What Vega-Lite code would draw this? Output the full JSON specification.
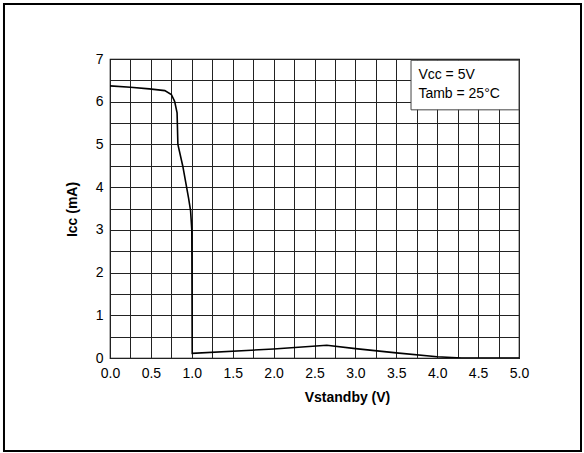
{
  "$schema": "https://vega.github.io/schema/vega-lite/v6.json",
  "width": 409,
  "height": 299,
  "autosize": {"type": "none"},
  "padding": {"left": 110, "top": 59, "right": 65, "bottom": 95},
  "background": "white",
  "config": {
    "font": "Liberation Sans",
    "view": {"stroke": "black", "strokeWidth": 1.2},
    "axis": {
      "labelFont": "Liberation Sans",
      "labelFontSize": 14,
      "labelColor": "black",
      "titleFont": "Liberation Sans",
      "titleFontSize": 14,
      "titleFontWeight": "bold",
      "titleColor": "black",
      "ticks": false,
      "domain": false,
      "grid": true,
      "gridColor": "#222",
      "gridOpacity": 1,
      "gridWidth": 1
    }
  },
  "layer": [
    {
      "data": {
        "values": [
          {"v": 0.0, "i": 6.37},
          {"v": 0.25, "i": 6.34},
          {"v": 0.48, "i": 6.3},
          {"v": 0.67, "i": 6.26},
          {"v": 0.75, "i": 6.17},
          {"v": 0.79, "i": 6.01},
          {"v": 0.82, "i": 5.74},
          {"v": 0.83, "i": 5.0},
          {"v": 0.89, "i": 4.49},
          {"v": 0.96, "i": 3.75},
          {"v": 0.985, "i": 3.45},
          {"v": 1.0, "i": 3.0},
          {"v": 1.005, "i": 0.11},
          {"v": 2.0, "i": 0.21},
          {"v": 2.65, "i": 0.3},
          {"v": 3.0, "i": 0.22},
          {"v": 3.5, "i": 0.12},
          {"v": 4.0, "i": 0.03},
          {"v": 4.3, "i": 0.0},
          {"v": 5.0, "i": 0.0}
        ]
      },
      "mark": {"type": "line", "color": "black", "strokeWidth": 1.6, "clip": true},
      "encoding": {
        "x": {
          "field": "v",
          "type": "quantitative",
          "scale": {"domain": [0, 5], "nice": false, "zero": false},
          "axis": {
            "title": "Vstandby (V)",
            "values": [0, 0.25, 0.5, 0.75, 1, 1.25, 1.5, 1.75, 2, 2.25, 2.5, 2.75, 3, 3.25, 3.5, 3.75, 4, 4.25, 4.5, 4.75, 5],
            "labelExpr": "datum.value % 0.5 == 0 ? format(datum.value, '.1f') : ''",
            "labelPadding": 8,
            "labelFlush": false,
            "titleX": 237,
            "titleY": 39,
            "titleBaseline": "middle",
            "titleAlign": "center"
          }
        },
        "y": {
          "field": "i",
          "type": "quantitative",
          "scale": {"domain": [0, 7], "nice": false, "zero": false},
          "axis": {
            "title": "Icc (mA)",
            "values": [0, 0.5, 1, 1.5, 2, 2.5, 3, 3.5, 4, 4.5, 5, 5.5, 6, 6.5, 7],
            "labelExpr": "datum.value % 1 == 0 ? format(datum.value, 'd') : ''",
            "labelPadding": 7,
            "labelFlush": false,
            "titleX": -38,
            "titleY": 150,
            "titleAngle": 270,
            "titleAlign": "center",
            "titleBaseline": "middle"
          }
        }
      }
    },
    {
      "data": {"values": [{"part": "frame"}]},
      "mark": {"type": "rect", "fill": null, "stroke": "black", "strokeWidth": 2},
      "encoding": {
        "x": {"datum": -1.296, "type": "quantitative", "axis": {"title": "Vstandby (V)", "values": [0, 0.25, 0.5, 0.75, 1, 1.25, 1.5, 1.75, 2, 2.25, 2.5, 2.75, 3, 3.25, 3.5, 3.75, 4, 4.25, 4.5, 4.75, 5], "labelExpr": "datum.value % 0.5 == 0 ? format(datum.value, '.1f') : ''", "labelPadding": 8, "labelFlush": false, "titleX": 237, "titleY": 39, "titleBaseline": "middle", "titleAlign": "center"}},
        "x2": {"datum": 5.758},
        "y": {"datum": 8.288, "type": "quantitative", "axis": {"title": "Icc (mA)", "values": [0, 0.5, 1, 1.5, 2, 2.5, 3, 3.5, 4, 4.5, 5, 5.5, 6, 6.5, 7], "labelExpr": "datum.value % 1 == 0 ? format(datum.value, 'd') : ''", "labelPadding": 7, "labelFlush": false, "titleX": -38, "titleY": 150, "titleAngle": 270, "titleAlign": "center", "titleBaseline": "middle"}},
        "y2": {"datum": -2.177}
      }
    },
    {
      "data": {"values": [{"part": "legend"}]},
      "mark": {"type": "rect", "fill": "white", "stroke": "#444", "strokeWidth": 1},
      "encoding": {
        "x": {"datum": 3.68, "type": "quantitative", "axis": {"title": "Vstandby (V)", "values": [0, 0.25, 0.5, 0.75, 1, 1.25, 1.5, 1.75, 2, 2.25, 2.5, 2.75, 3, 3.25, 3.5, 3.75, 4, 4.25, 4.5, 4.75, 5], "labelExpr": "datum.value % 0.5 == 0 ? format(datum.value, '.1f') : ''", "labelPadding": 8, "labelFlush": false, "titleX": 237, "titleY": 39, "titleBaseline": "middle", "titleAlign": "center"}},
        "x2": {"datum": 5.0},
        "y": {"datum": 6.97, "type": "quantitative", "axis": {"title": "Icc (mA)", "values": [0, 0.5, 1, 1.5, 2, 2.5, 3, 3.5, 4, 4.5, 5, 5.5, 6, 6.5, 7], "labelExpr": "datum.value % 1 == 0 ? format(datum.value, 'd') : ''", "labelPadding": 7, "labelFlush": false, "titleX": -38, "titleY": 150, "titleAngle": 270, "titleAlign": "center", "titleBaseline": "middle"}},
        "y2": {"datum": 5.81}
      }
    },
    {
      "data": {"values": [{"label": "Vcc = 5V"}]},
      "mark": {"type": "text", "align": "left", "baseline": "middle", "fontSize": 14, "fontWeight": "normal", "font": "Liberation Sans", "color": "black"},
      "encoding": {
        "x": {"datum": 3.77, "type": "quantitative", "axis": {"title": "Vstandby (V)", "values": [0, 0.25, 0.5, 0.75, 1, 1.25, 1.5, 1.75, 2, 2.25, 2.5, 2.75, 3, 3.25, 3.5, 3.75, 4, 4.25, 4.5, 4.75, 5], "labelExpr": "datum.value % 0.5 == 0 ? format(datum.value, '.1f') : ''", "labelPadding": 8, "labelFlush": false, "titleX": 237, "titleY": 39, "titleBaseline": "middle", "titleAlign": "center"}},
        "y": {"datum": 6.63, "type": "quantitative", "axis": {"title": "Icc (mA)", "values": [0, 0.5, 1, 1.5, 2, 2.5, 3, 3.5, 4, 4.5, 5, 5.5, 6, 6.5, 7], "labelExpr": "datum.value % 1 == 0 ? format(datum.value, 'd') : ''", "labelPadding": 7, "labelFlush": false, "titleX": -38, "titleY": 150, "titleAngle": 270, "titleAlign": "center", "titleBaseline": "middle"}},
        "text": {"field": "label"}
      }
    },
    {
      "data": {"values": [{"label": "Tamb = 25°C"}]},
      "mark": {"type": "text", "align": "left", "baseline": "middle", "fontSize": 14, "fontWeight": "normal", "font": "Liberation Sans", "color": "black"},
      "encoding": {
        "x": {"datum": 3.77, "type": "quantitative", "axis": {"title": "Vstandby (V)", "values": [0, 0.25, 0.5, 0.75, 1, 1.25, 1.5, 1.75, 2, 2.25, 2.5, 2.75, 3, 3.25, 3.5, 3.75, 4, 4.25, 4.5, 4.75, 5], "labelExpr": "datum.value % 0.5 == 0 ? format(datum.value, '.1f') : ''", "labelPadding": 8, "labelFlush": false, "titleX": 237, "titleY": 39, "titleBaseline": "middle", "titleAlign": "center"}},
        "y": {"datum": 6.17, "type": "quantitative", "axis": {"title": "Icc (mA)", "values": [0, 0.5, 1, 1.5, 2, 2.5, 3, 3.5, 4, 4.5, 5, 5.5, 6, 6.5, 7], "labelExpr": "datum.value % 1 == 0 ? format(datum.value, 'd') : ''", "labelPadding": 7, "labelFlush": false, "titleX": -38, "titleY": 150, "titleAngle": 270, "titleAlign": "center", "titleBaseline": "middle"}},
        "text": {"field": "label"}
      }
    }
  ]
}
